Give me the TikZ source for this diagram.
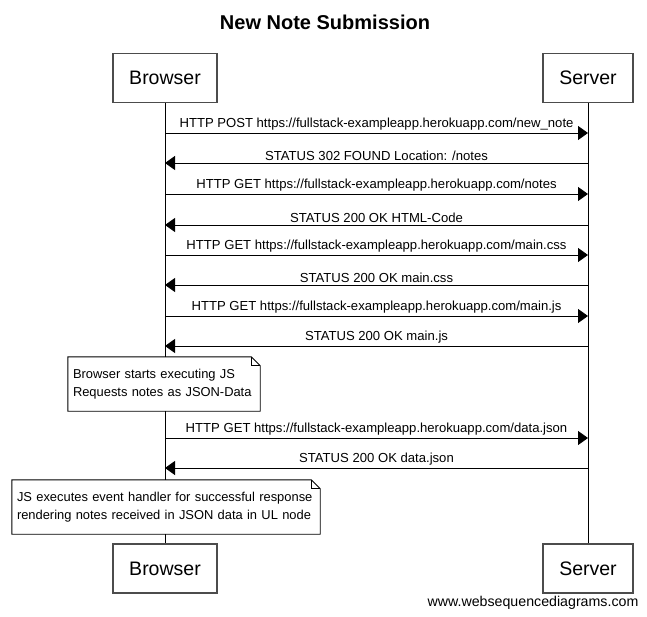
\documentclass[tikz,border=0pt]{standalone}
\usepackage{fontspec}
\setmainfont{Liberation Sans}
\usetikzlibrary{arrows.meta,calc}
\begin{document}
\begin{tikzpicture}[x=1pt,y=-1pt,
  actor/.style={draw=black!70,line width=1.2pt,fill=white,minimum width=#1,minimum height=49,inner sep=0pt,font=\fontsize{19.5}{22}\selectfont},
  life/.style={draw=black,line width=0.9pt},
  msg/.style={draw=black,line width=0.9pt,-{Triangle[length=10,width=14]}},
  lbl/.style={font=\fontsize{13.1}{15}\selectfont,inner sep=1pt,anchor=south},
  notebox/.style={fill=white,align=left,inner xsep=5,inner ysep=0pt,minimum height=54,font=\fontsize{12.9}{18}\selectfont},
  foldline/.style={draw=black,line width=0.9pt}]
\useasboundingbox (0,0) rectangle (647,617);
\node[font=\bfseries\fontsize{20}{23}\selectfont] (title) at (325,22) {New Note Submission};
\node[actor=104] (bt) at (165,78) {Browser};
\node[actor=90] (st) at (588,78) {Server};
\node[actor=104] (bb) at (165,568.5) {Browser};
\node[actor=90] (sb) at (588,568.5) {Server};
\draw[life] (bt) -- (bb);
\draw[life] (st) -- (sb);
% messages
\foreach \y/\t/\d in {
  133/{HTTP POST https://fullstack-exampleapp.herokuapp.com/new\_note}/r,
  163/{STATUS 302 FOUND Location: /notes}/l,
  194/{HTTP GET https://fullstack-exampleapp.herokuapp.com/notes}/r,
  225/{STATUS 200 OK HTML-Code}/l,
  255/{HTTP GET https://fullstack-exampleapp.herokuapp.com/main.css}/r,
  285/{STATUS 200 OK main.css}/l,
  316/{HTTP GET https://fullstack-exampleapp.herokuapp.com/main.js}/r,
  346/{STATUS 200 OK main.js}/l,
  438/{HTTP GET https://fullstack-exampleapp.herokuapp.com/data.json}/r,
  468/{STATUS 200 OK data.json}/l}{
  \if r\d
    \draw[msg] (bt.south |- 0,\y) -- (st.south |- 0,\y);
  \else
    \draw[msg] (st.south |- 0,\y) -- (bt.south |- 0,\y);
  \fi
  \node[lbl] (m\y) at (376.5,\y-1.5) {\t};
}
% notes
\node[notebox,text width=182] (n1) at (164,384) {Browser starts executing JS\\Requests notes as JSON-Data};
\draw[foldline] (n1.north west) -- ([xshift=-9]n1.north east) -- ([yshift=-9]n1.north east) -- (n1.south east) -- (n1.south west) -- cycle;
\draw[foldline] ([xshift=-9]n1.north east) -- ([xshift=-9,yshift=-9]n1.north east) -- ([yshift=-9]n1.north east);
\node[notebox,text width=298] (n2) at (166,507) {JS executes event handler for successful response\\rendering notes received in JSON data in UL node};
\draw[foldline] (n2.north west) -- ([xshift=-9]n2.north east) -- ([yshift=-9]n2.north east) -- (n2.south east) -- (n2.south west) -- cycle;
\draw[foldline] ([xshift=-9]n2.north east) -- ([xshift=-9,yshift=-9]n2.north east) -- ([yshift=-9]n2.north east);
\node[font=\fontsize{14.2}{16}\selectfont] (wm) at (533,603) {www.websequencediagrams.com};
\end{tikzpicture}
\end{document}
